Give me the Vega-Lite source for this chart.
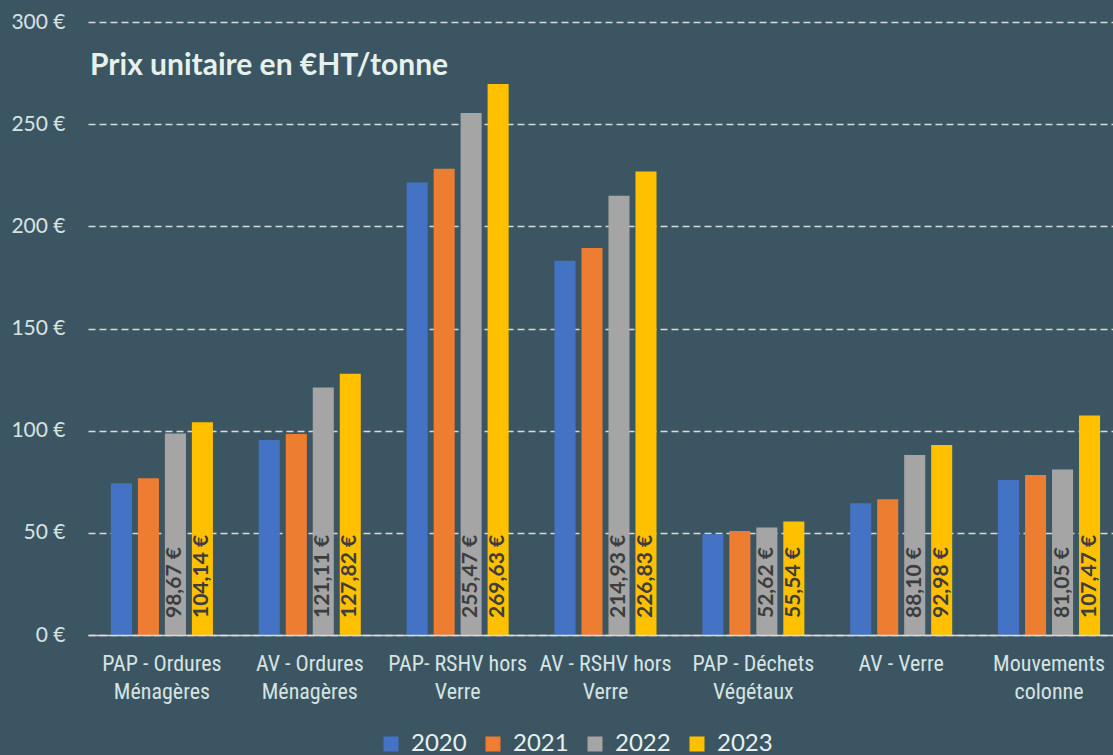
{
  "$schema": "https://vega.github.io/schema/vega-lite/v6.json",
  "width": 1025,
  "height": 613,
  "autosize": {"type": "none"},
  "padding": {"left": 88, "top": 22, "right": 0, "bottom": 120},
  "background": "#3b5662",
  "config": {
    "view": {"stroke": null},
    "locale": {"number": {"decimal": ",", "thousands": " ", "grouping": [3], "currency": ["", " €"]}}
  },
  "title": {
    "text": "Prix unitaire en €HT/tonne",
    "anchor": "start",
    "frame": "group",
    "offset": -94,
    "baseline": "alphabetic",
    "dx": 2,
    "font": "Lato",
    "fontSize": 30,
    "fontWeight": "bold",
    "color": "#e6f1ee"
  },
  "data": {
    "values": [
      {"cat": "PAP - Ordures Ménagères", "year": "2020", "value": 74.3},
      {"cat": "PAP - Ordures Ménagères", "year": "2021", "value": 76.7},
      {"cat": "PAP - Ordures Ménagères", "year": "2022", "value": 98.67},
      {"cat": "PAP - Ordures Ménagères", "year": "2023", "value": 104.14},
      {"cat": "AV - Ordures Ménagères", "year": "2020", "value": 95.4},
      {"cat": "AV - Ordures Ménagères", "year": "2021", "value": 98.4},
      {"cat": "AV - Ordures Ménagères", "year": "2022", "value": 121.11},
      {"cat": "AV - Ordures Ménagères", "year": "2023", "value": 127.82},
      {"cat": "PAP- RSHV hors Verre", "year": "2020", "value": 221.4},
      {"cat": "PAP- RSHV hors Verre", "year": "2021", "value": 228.2},
      {"cat": "PAP- RSHV hors Verre", "year": "2022", "value": 255.47},
      {"cat": "PAP- RSHV hors Verre", "year": "2023", "value": 269.63},
      {"cat": "AV - RSHV hors Verre", "year": "2020", "value": 183.1},
      {"cat": "AV - RSHV hors Verre", "year": "2021", "value": 189.4},
      {"cat": "AV - RSHV hors Verre", "year": "2022", "value": 214.93},
      {"cat": "AV - RSHV hors Verre", "year": "2023", "value": 226.83},
      {"cat": "PAP - Déchets Végétaux", "year": "2020", "value": 49.3},
      {"cat": "PAP - Déchets Végétaux", "year": "2021", "value": 50.9},
      {"cat": "PAP - Déchets Végétaux", "year": "2022", "value": 52.62},
      {"cat": "PAP - Déchets Végétaux", "year": "2023", "value": 55.54},
      {"cat": "AV - Verre", "year": "2020", "value": 64.5},
      {"cat": "AV - Verre", "year": "2021", "value": 66.4},
      {"cat": "AV - Verre", "year": "2022", "value": 88.10},
      {"cat": "AV - Verre", "year": "2023", "value": 92.98},
      {"cat": "Mouvements colonne", "year": "2020", "value": 75.9},
      {"cat": "Mouvements colonne", "year": "2021", "value": 78.3},
      {"cat": "Mouvements colonne", "year": "2022", "value": 81.05},
      {"cat": "Mouvements colonne", "year": "2023", "value": 107.47}
    ]
  },
  "encoding": {
    "x": {
      "field": "cat",
      "type": "nominal",
      "sort": null,
      "scale": {"range": [0, 1035], "paddingInner": 0.31, "paddingOuter": 0.155},
      "axis": {
        "title": null,
        "labelAngle": 0,
        "ticks": false,
        "domain": true,
        "domainColor": "#d9d9d9",
        "domainWidth": 1.5,
        "labelFont": "Roboto Condensed, Liberation Sans Narrow, Lato",
        "labelFontSize": 22,
        "labelColor": "#d6e3e2",
        "labelPadding": 18,
        "labelLineHeight": 28,
        "labelLimit": 0,
        "zindex": 1,
        "labelExpr": "datum.label == 'AV - Verre' ? datum.label : [slice(datum.label, 0, lastindexof(datum.label, ' ')), slice(datum.label, lastindexof(datum.label, ' ') + 1)]"
      }
    },
    "xOffset": {"field": "year", "type": "nominal", "scale": {"paddingInner": 0.22}}
  },
  "layer": [
    {
      "mark": {"type": "bar"},
      "encoding": {
        "y": {
          "field": "value",
          "type": "quantitative",
          "scale": {"domain": [0, 300]},
          "axis": {
            "title": null,
            "values": [0, 50, 100, 150, 200, 250, 300],
            "format": "$.0f",
            "domain": false,
            "ticks": false,
            "grid": true,
            "gridColor": "#d9d9d9",
            "gridDash": [7, 4],
            "gridWidth": 1.5,
            "labelFont": "Lato",
            "labelFontSize": 21,
            "labelColor": "#d6e3e2",
            "labelPadding": 23
          }
        },
        "color": {
          "field": "year",
          "type": "nominal",
          "scale": {"domain": ["2020", "2021", "2022", "2023"], "range": ["#4472c4", "#ed7d31", "#a5a5a5", "#ffc000"]},
          "legend": {
            "title": null,
            "orient": "none",
            "legendX": 291,
            "legendY": 710,
            "direction": "horizontal",
            "symbolType": "square",
            "symbolSize": 225,
            "symbolStrokeWidth": 0,
            "symbolOpacity": 1,
            "labelFont": "Lato",
            "labelFontSize": 24,
            "labelColor": "#e6f1ee",
            "labelOffset": 8,
            "columnPadding": 14
          }
        }
      }
    },
    {
      "transform": [{"filter": {"field": "year", "oneOf": ["2022", "2023"]}}],
      "mark": {
        "type": "text",
        "angle": 270,
        "align": "left",
        "baseline": "middle",
        "dx": 17,
        "font": "Lato",
        "fontSize": 21,
        "fontWeight": "bold",
        "color": "#3d3d3d"
      },
      "encoding": {
        "y": {"datum": 0, "type": "quantitative"},
        "text": {"field": "value", "type": "quantitative", "format": "$.2f"}
      }
    }
  ]
}
